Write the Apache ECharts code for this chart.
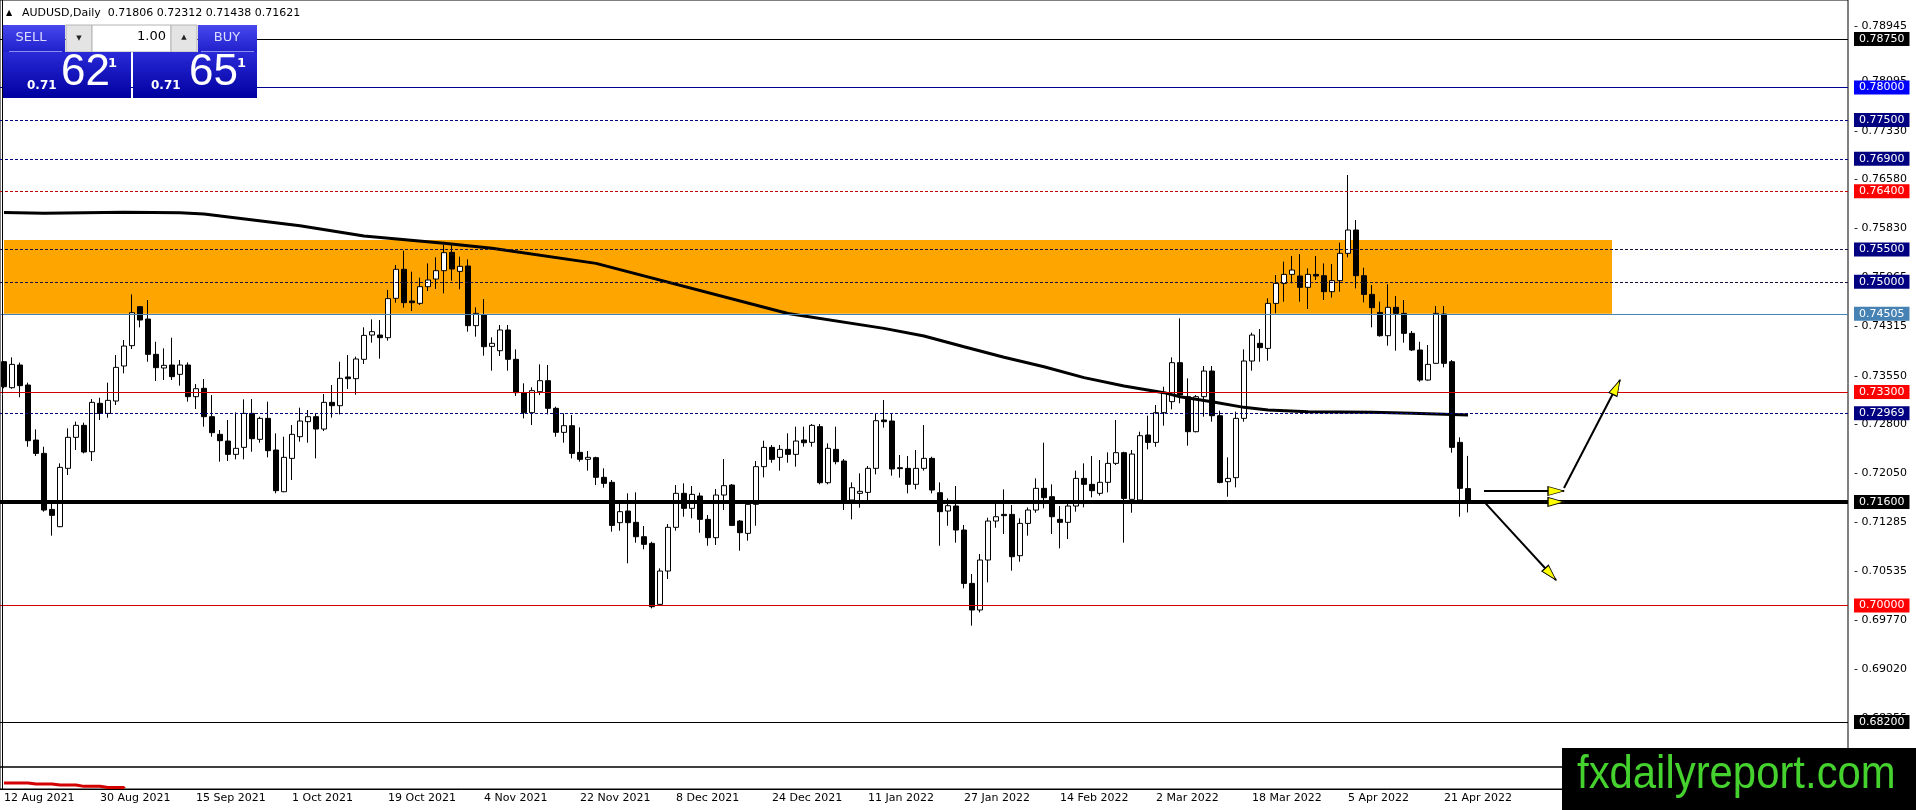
<!DOCTYPE html>
<html>
<head>
<meta charset="utf-8">
<style>
  html, body { margin: 0; padding: 0; background: #fff; }
  #main { width: 1916px; height: 810px; }
</style>
</head>
<body>
<div id="main"></div>
<script src="https://cdn.jsdelivr.net/npm/echarts@6/dist/echarts.min.js"></script>
<script>
// AUDUSD daily, 12 Aug 2021 .. 26 Apr 2022 (one bar per weekday)
var opens = [
  0.73766, 0.73365, 0.73715, 0.73406, 0.72556, 0.72350, 0.71485, 0.71218, 0.72119, 0.72598,
  0.72783, 0.72376, 0.73123, 0.72968, 0.73159, 0.73700, 0.74014, 0.74616, 0.74425, 0.73880,
  0.73669, 0.73715, 0.73571, 0.73715, 0.73226, 0.73355, 0.72917, 0.72644, 0.72541, 0.72335,
  0.72443, 0.72968, 0.72567, 0.72891, 0.72402, 0.71758, 0.72273, 0.72608, 0.72840, 0.72917,
  0.72726, 0.73138, 0.73087, 0.73530, 0.73504, 0.73803, 0.74178, 0.74178, 0.74137, 0.74745,
  0.75193, 0.74704, 0.74668, 0.74925, 0.75043, 0.75172, 0.75455, 0.75162, 0.75244, 0.74323,
  0.74487, 0.74003, 0.73936, 0.74256, 0.73803, 0.73288, 0.72979, 0.73303, 0.73473, 0.73046,
  0.72675, 0.72778, 0.72366, 0.72258, 0.72284, 0.71980, 0.71903, 0.71280, 0.71460, 0.71285,
  0.71063, 0.70960, 0.70018, 0.70533, 0.71208, 0.71733, 0.71501, 0.71692, 0.71331, 0.71048,
  0.71707, 0.71861, 0.71305, 0.71115, 0.71563, 0.72145, 0.72443, 0.72289, 0.72412, 0.72335,
  0.72557, 0.72521, 0.72763, 0.71897, 0.72412, 0.72232, 0.71630, 0.71733, 0.71748, 0.72119,
  0.72866, 0.72850, 0.72129, 0.72119, 0.71872, 0.72119, 0.72273, 0.71743, 0.71460, 0.71537,
  0.71166, 0.70342, 0.69931, 0.70703, 0.71305, 0.71408, 0.71408, 0.70770, 0.71269, 0.71475,
  0.71810, 0.71681, 0.71331, 0.71285, 0.71537, 0.71964, 0.71872, 0.71733, 0.71903, 0.72196,
  0.72361, 0.71640, 0.71630, 0.72634, 0.72520, 0.72979, 0.73149, 0.73751, 0.73226, 0.72685,
  0.73226, 0.73622, 0.72932, 0.71913, 0.71975, 0.72891, 0.73777, 0.74050, 0.73972, 0.74667,
  0.74976, 0.75115, 0.75090, 0.74915, 0.75115, 0.75095, 0.74848, 0.75018, 0.75440, 0.75800,
  0.75095, 0.74806, 0.74528, 0.74168, 0.74606, 0.74513, 0.74204, 0.73947, 0.73483, 0.73741,
  0.74503, 0.73766, 0.72520, 0.71806
];
var highs = [
  0.73777, 0.73833, 0.73751, 0.73442, 0.72721, 0.72453, 0.71578, 0.72196, 0.72737, 0.72840,
  0.72824, 0.73190, 0.73210, 0.73442, 0.73869, 0.74101, 0.74807, 0.74626, 0.74719, 0.74075,
  0.73972, 0.74137, 0.73792, 0.73756, 0.73421, 0.73499, 0.73251, 0.72711, 0.72865, 0.72984,
  0.73185, 0.73190, 0.72917, 0.73149, 0.72659, 0.72608, 0.72788, 0.73056, 0.73020, 0.72968,
  0.73267, 0.73406, 0.73766, 0.73869, 0.73844, 0.74297, 0.74420, 0.74410, 0.74874, 0.75260,
  0.75481, 0.75157, 0.75064, 0.75285, 0.75378, 0.75569, 0.75584, 0.75388, 0.75347, 0.74606,
  0.74734, 0.74142, 0.74333, 0.74333, 0.73957, 0.73432, 0.73370, 0.73725, 0.73715, 0.73071,
  0.72968, 0.72943, 0.72752, 0.72387, 0.72299, 0.72119, 0.71939, 0.71568, 0.71733, 0.71748,
  0.71228, 0.70986, 0.70574, 0.71259, 0.71861, 0.71887, 0.71846, 0.71743, 0.71398, 0.71800,
  0.72263, 0.71877, 0.71321, 0.71604, 0.72232, 0.72546, 0.72479, 0.72479, 0.72660, 0.72763,
  0.72763, 0.72804, 0.72804, 0.72505, 0.72763, 0.72263, 0.71903, 0.72042, 0.72155, 0.72968,
  0.73174, 0.72968, 0.72325, 0.72309, 0.72402, 0.72788, 0.72299, 0.71903, 0.71655, 0.71846,
  0.71244, 0.70487, 0.70796, 0.71357, 0.71568, 0.71794, 0.71553, 0.71347, 0.71516, 0.71964,
  0.72515, 0.71872, 0.71537, 0.71589, 0.72083, 0.72196, 0.72309, 0.72248, 0.72366, 0.72865,
  0.72376, 0.72402, 0.72685, 0.72932, 0.73097, 0.73380, 0.73833, 0.74436, 0.73509, 0.73251,
  0.73699, 0.73699, 0.73009, 0.72289, 0.72994, 0.73957, 0.74214, 0.74271, 0.74745, 0.75105,
  0.75311, 0.75399, 0.75430, 0.75208, 0.75399, 0.75285, 0.75275, 0.75605, 0.76650, 0.75955,
  0.75218, 0.74951, 0.74693, 0.74961, 0.74781, 0.74719, 0.74240, 0.74075, 0.74024, 0.74626,
  0.74626, 0.73792, 0.72598, 0.72312
];
var lows = [
  0.73355, 0.73349, 0.73216, 0.72453, 0.72309, 0.71450, 0.71079, 0.71210, 0.72016, 0.72402,
  0.72350, 0.72232, 0.72865, 0.72901, 0.73097, 0.73586, 0.73962, 0.74297, 0.73766, 0.73468,
  0.73483, 0.73483, 0.73396, 0.73149, 0.73035, 0.72762, 0.72608, 0.72222, 0.72232, 0.72258,
  0.72258, 0.72376, 0.72515, 0.72289, 0.71733, 0.71750, 0.71939, 0.72531, 0.72515, 0.72273,
  0.72695, 0.72902, 0.72953, 0.73344, 0.73257, 0.73730, 0.74060, 0.73813, 0.74091, 0.74678,
  0.74601, 0.74549, 0.74642, 0.74858, 0.74889, 0.74822, 0.75018, 0.74884, 0.74230, 0.74153,
  0.73859, 0.73627, 0.73854, 0.73627, 0.73236, 0.72891, 0.72788, 0.73252, 0.72953, 0.72608,
  0.72515, 0.72273, 0.72222, 0.72083, 0.71861, 0.71820, 0.71141, 0.71156, 0.70652, 0.70971,
  0.70868, 0.69956, 0.70008, 0.70410, 0.71156, 0.71372, 0.71347, 0.71125, 0.70924, 0.70935,
  0.71475, 0.71233, 0.70847, 0.71002, 0.71233, 0.71980, 0.72206, 0.72083, 0.72206, 0.72145,
  0.72454, 0.72454, 0.71872, 0.71872, 0.72181, 0.71475, 0.71331, 0.71511, 0.71630, 0.72026,
  0.72747, 0.72006, 0.71975, 0.71733, 0.71794, 0.72083, 0.71733, 0.70924, 0.71233, 0.70971,
  0.70265, 0.69689, 0.69894, 0.70358, 0.71202, 0.71104, 0.70538, 0.70677, 0.71079, 0.71434,
  0.71501, 0.71104, 0.70883, 0.71027, 0.71450, 0.71516, 0.71671, 0.71697, 0.71748, 0.72170,
  0.70971, 0.71434, 0.71619, 0.72412, 0.72453, 0.72778, 0.73030, 0.73123, 0.72469, 0.72675,
  0.72917, 0.72840, 0.71887, 0.71681, 0.71825, 0.72840, 0.73627, 0.73766, 0.73782, 0.74513,
  0.74693, 0.74976, 0.74693, 0.74580, 0.75028, 0.74719, 0.74755, 0.74848, 0.75378, 0.74899,
  0.74683, 0.74297, 0.74153, 0.74014, 0.73936, 0.74060, 0.73931, 0.73457, 0.73473, 0.73730,
  0.73679, 0.72361, 0.71372, 0.71438
];
var closes = [
  0.73380, 0.73725, 0.73396, 0.72546, 0.72350, 0.71475, 0.71393, 0.72134, 0.72598, 0.72783,
  0.72371, 0.73138, 0.72968, 0.73169, 0.73679, 0.74008, 0.74523, 0.74410, 0.73880, 0.73674,
  0.73710, 0.73535, 0.73715, 0.73226, 0.73349, 0.72917, 0.72670, 0.72546, 0.72335, 0.72428,
  0.72968, 0.72577, 0.72891, 0.72392, 0.71774, 0.72289, 0.72644, 0.72850, 0.72917, 0.72726,
  0.73138, 0.73087, 0.73509, 0.73504, 0.73808, 0.74173, 0.74230, 0.74137, 0.74740, 0.75193,
  0.74678, 0.74678, 0.74925, 0.75028, 0.75172, 0.75450, 0.75198, 0.75239, 0.74323, 0.74513,
  0.73998, 0.74050, 0.74256, 0.73803, 0.73288, 0.72979, 0.73319, 0.73473, 0.73046, 0.72675,
  0.72778, 0.72350, 0.72258, 0.72289, 0.71980, 0.71887, 0.71238, 0.71450, 0.71280, 0.71063,
  0.70945, 0.69982, 0.70533, 0.71208, 0.71733, 0.71501, 0.71717, 0.71331, 0.71048, 0.71707,
  0.71851, 0.71238, 0.71125, 0.71563, 0.72145, 0.72443, 0.72258, 0.72412, 0.72335, 0.72541,
  0.72515, 0.72783, 0.71897, 0.72428, 0.72222, 0.71630, 0.71820, 0.71764, 0.72119, 0.72855,
  0.72840, 0.72109, 0.72114, 0.71872, 0.72119, 0.72273, 0.71784, 0.71450, 0.71542, 0.71166,
  0.70342, 0.69931, 0.70703, 0.71305, 0.71372, 0.71388, 0.70754, 0.71269, 0.71475, 0.71810,
  0.71666, 0.71372, 0.71285, 0.71537, 0.71964, 0.71872, 0.71774, 0.71903, 0.72196, 0.72361,
  0.71655, 0.72340, 0.72623, 0.72520, 0.72979, 0.73293, 0.73751, 0.73252, 0.72685, 0.73226,
  0.73622, 0.72932, 0.71902, 0.71964, 0.72891, 0.73777, 0.74178, 0.73983, 0.74667, 0.74976,
  0.75115, 0.75182, 0.74915, 0.75115, 0.75090, 0.74848, 0.75018, 0.75440, 0.75800, 0.75095,
  0.74806, 0.74601, 0.74168, 0.74606, 0.74513, 0.74204, 0.73947, 0.73483, 0.73725, 0.74513,
  0.73741, 0.72443, 0.71810, 0.71621
];

// thick moving average, sampled at bar indexes
var maIndex  = [0, 5, 15, 22, 25, 37, 45, 55, 61, 74, 98, 110, 115, 120, 125, 130, 135, 140, 145, 147, 151, 155, 158, 163, 171, 176, 183];
var maValues = [0.76070, 0.76058, 0.76073, 0.76068, 0.76047, 0.75867, 0.75708, 0.75594, 0.75517, 0.75285, 0.74510, 0.74281, 0.74163, 0.73998, 0.73834, 0.73689, 0.73520, 0.73390, 0.73288, 0.73226, 0.73149, 0.73061, 0.73020, 0.72994, 0.72984, 0.72969, 0.72943];

// small indicator in the sub window (first bars only)
var subValues = [0.27, 0.27, 0.27, 0.23, 0.23, 0.23, 0.18, 0.18, 0.18, 0.12, 0.12, 0.12, 0.07, 0.07, 0.07, 0.03];

var dateLabels = ['12 Aug 2021', '30 Aug 2021', '15 Sep 2021', '1 Oct 2021', '19 Oct 2021', '4 Nov 2021',
  '22 Nov 2021', '8 Dec 2021', '24 Dec 2021', '11 Jan 2022', '27 Jan 2022', '14 Feb 2022',
  '2 Mar 2022', '18 Mar 2022', '5 Apr 2022', '21 Apr 2022'];

var priceTicks = [0.78945, 0.78095, 0.77330, 0.76580, 0.75830, 0.75065, 0.74315, 0.73550,
  0.72800, 0.72050, 0.71285, 0.70535, 0.69770, 0.69020, 0.68255];

var levelValues = [0.78750, 0.78000, 0.77500, 0.76900, 0.76400, 0.75500, 0.75000, 0.74505,
  0.73300, 0.72969, 0.71600, 0.70000, 0.68200];

var zoneTop = 0.75646, zoneBottom = 0.74505, zoneEnd = 201;

var arrowStarts = [[185, 0.71769], [195, 0.71815], [185, 0.71604]];
var arrowEnds   = [[195, 0.71769], [202, 0.73483], [194, 0.70394]];
var arrowHeads  = [[195, 0.71769], [195, 0.71600], [202, 0.73483], [194, 0.70394]];

// styles (kept apart from the values)
var navy = '#000080';
var levelStyles = [
  { c: '#000000', t: 'solid', w: 1, bg: '#000000' },
  { c: '#00008b', t: 'solid', w: 1, bg: '#0000ff' },
  { c: navy, t: [3, 2], w: 1, bg: navy },
  { c: navy, t: [3, 2], w: 1, bg: navy },
  { c: '#c00000', t: [3, 2], w: 1, bg: '#ff0000' },
  { c: '#1a1040', t: [3, 2], w: 1, bg: navy },
  { c: '#1a1040', t: [3, 2], w: 1, bg: navy },
  { c: '#4682b4', t: 'solid', w: 1, bg: '#4682b4' },
  { c: '#d00000', t: 'solid', w: 1, bg: '#ff0000' },
  { c: navy, t: [3, 2], w: 1, bg: navy },
  { c: '#000000', t: 'solid', w: 4, bg: '#000000' },
  { c: '#d00000', t: 'solid', w: 1, bg: '#ff0000' },
  { c: '#000000', t: 'solid', w: 1, bg: '#000000' }
];
var headRotate = [-90, -90, -25.7, -137.7];
var headOffset = [[-8, 0], [-8, 0], [-3.5, 7.2], [-5.4, -5.9]];

var SLOTS = 231;
var categories = [];
for (var i = 0; i < SLOTS; i++) categories.push(String(i));

var candleData = opens.map(function (o, i) { return [o, closes[i], lows[i], highs[i]]; });
var maData = maIndex.map(function (x, i) { return [x, maValues[i]]; });

var FONT = 'DejaVu Sans';

var markLines = [];
priceTicks.forEach(function (v) {
  markLines.push({
    yAxis: v,
    lineStyle: { color: 'rgba(0,0,0,0)', width: 0 },
    label: { show: true, position: 'end', distance: 6, formatter: '- ' + v.toFixed(5), color: '#000',
      fontFamily: FONT, fontSize: 11, padding: [1, 5, 1, 0], lineHeight: 12 }
  });
});
levelValues.forEach(function (v, i) {
  var s = levelStyles[i];
  markLines.push({
    yAxis: v,
    lineStyle: { color: s.c, type: s.t, width: s.w, opacity: 1 },
    label: { show: true, position: 'end', distance: 6, formatter: v.toFixed(5), color: '#fff',
      backgroundColor: s.bg, fontFamily: FONT, fontSize: 11, padding: [1, 5, 1, 5], lineHeight: 12 }
  });
});
arrowStarts.forEach(function (p, i) {
  markLines.push([
    { coord: p, lineStyle: { color: '#000', width: 2, type: 'solid', opacity: 1 }, label: { show: false } },
    { coord: arrowEnds[i] }
  ]);
});

var markPoints = arrowHeads.map(function (p, i) {
  return {
    coord: p, symbol: 'triangle', symbolSize: [9, 16],
    symbolRotate: headRotate[i], symbolOffset: headOffset[i],
    itemStyle: { color: '#ffff00', borderColor: '#000', borderWidth: 1 },
    label: { show: false }
  };
});

var chartDom = document.getElementById('main');
var myChart = echarts.init(chartDom, null, { renderer: 'canvas' });

var blueTop = { type: 'linear', x: 0, y: 0, x2: 0, y2: 1,
  colorStops: [{ offset: 0, color: '#4848ee' }, { offset: 1, color: '#2020cc' }] };
var blueLow = { type: 'linear', x: 0, y: 0, x2: 0, y2: 1,
  colorStops: [{ offset: 0, color: '#2a2ad8' }, { offset: 1, color: '#0000a0' }] };

var option = {
  animation: false,
  backgroundColor: '#ffffff',
  grid: [
    { left: 0, top: 0, width: SLOTS * 8, height: 767, show: true, borderColor: '#000', borderWidth: 1 },
    { left: 0, top: 767, width: SLOTS * 8, height: 22, show: true, borderColor: '#000', borderWidth: 1 }
  ],
  xAxis: [
    { type: 'category', gridIndex: 0, data: categories, boundaryGap: true,
      axisLine: { show: false }, axisTick: { show: false }, axisLabel: { show: false }, splitLine: { show: false } },
    { type: 'category', gridIndex: 1, data: categories, boundaryGap: true,
      axisLine: { show: true, lineStyle: { color: '#000' } },
      axisTick: { show: false },
      axisLabel: { show: true, interval: 11, align: 'left', margin: 4, color: '#000', fontFamily: FONT, fontSize: 11,
        formatter: function (v, idx) { var k = idx / 12; return dateLabels[k] || ''; } },
      splitLine: { show: false } }
  ],
  yAxis: [
    { type: 'value', gridIndex: 0, min: 0.67506, max: 0.79353, show: false, splitLine: { show: false } },
    { type: 'value', gridIndex: 1, min: 0, max: 1, show: false, splitLine: { show: false } }
  ],
  series: [
    {
      name: 'AUDUSD', type: 'candlestick', xAxisIndex: 0, yAxisIndex: 0, z: 2,
      data: candleData, barWidth: 5,
      itemStyle: { color: '#ffffff', color0: '#000000', borderColor: '#000000', borderColor0: '#000000',
        borderColorDoji: '#000000', borderWidth: 1 },
      markArea: {
        silent: true,
        itemStyle: { color: '#ffa500' },
        data: [[{ xAxis: 0, yAxis: zoneTop }, { xAxis: zoneEnd, yAxis: zoneBottom }]]
      },
      markLine: { silent: true, symbol: 'none', precision: 5, data: markLines },
      markPoint: { silent: true, data: markPoints }
    },
    {
      name: 'MA', type: 'line', xAxisIndex: 0, yAxisIndex: 0, z: 3,
      data: maData, symbol: 'none', smooth: false,
      lineStyle: { color: '#000', width: 3 }
    },
    {
      name: 'sub', type: 'line', xAxisIndex: 1, yAxisIndex: 1, z: 3,
      data: subValues, symbol: 'none', step: 'end',
      lineStyle: { color: '#d40000', width: 3 }
    }
  ],
  graphic: [
    { type: 'line', z: 90, shape: { x1: 2.5, y1: 0, x2: 2.5, y2: 789 }, style: { stroke: '#000', lineWidth: 1 } },
    { type: 'text', z: 100, x: 6, y: 13, style: { text: '\u25B2', fill: '#000', font: '8px ' + FONT, verticalAlign: 'middle' } },
    { type: 'text', z: 100, x: 22, y: 13, style: { text: 'AUDUSD,Daily  0.71806 0.72312 0.71438 0.71621',
      fill: '#000', font: '11px ' + FONT, verticalAlign: 'middle' } },

    { type: 'rect', z: 100, shape: { x: 3, y: 25, width: 62, height: 27 }, style: { fill: blueTop } },
    { type: 'rect', z: 100, shape: { x: 198, y: 25, width: 59, height: 27 }, style: { fill: blueTop } },
    { type: 'line', z: 101, shape: { x1: 9, y1: 51.5, x2: 62, y2: 51.5 }, style: { stroke: '#8d8df0', lineWidth: 1 } },
    { type: 'line', z: 101, shape: { x1: 201, y1: 51.5, x2: 254, y2: 51.5 }, style: { stroke: '#8d8df0', lineWidth: 1 } },
    { type: 'text', z: 101, x: 31, y: 38, style: { text: 'SELL', fill: '#dcdcff', font: '13px ' + FONT, align: 'center', verticalAlign: 'middle' } },
    { type: 'text', z: 101, x: 227, y: 38, style: { text: 'BUY', fill: '#dcdcff', font: '13px ' + FONT, align: 'center', verticalAlign: 'middle' } },

    { type: 'rect', z: 100, shape: { x: 66, y: 25, width: 26, height: 27 }, style: { fill: '#e4e4e4', stroke: '#b4b4b4' } },
    { type: 'rect', z: 100, shape: { x: 92, y: 25, width: 79, height: 27 }, style: { fill: '#ffffff', stroke: '#b4b4b4' } },
    { type: 'rect', z: 100, shape: { x: 171, y: 25, width: 26, height: 27 }, style: { fill: '#e4e4e4', stroke: '#b4b4b4' } },
    { type: 'text', z: 101, x: 79, y: 38, style: { text: '\u25BC', fill: '#222', font: '7px ' + FONT, align: 'center', verticalAlign: 'middle' } },
    { type: 'text', z: 101, x: 184, y: 37, style: { text: '\u25B2', fill: '#222', font: '7px ' + FONT, align: 'center', verticalAlign: 'middle' } },
    { type: 'text', z: 101, x: 166, y: 37, style: { text: '1.00', fill: '#000', font: '13px ' + FONT, align: 'right', verticalAlign: 'middle' } },

    { type: 'rect', z: 100, shape: { x: 3, y: 52, width: 128, height: 46 }, style: { fill: blueLow } },
    { type: 'rect', z: 100, shape: { x: 133, y: 52, width: 124, height: 46 }, style: { fill: blueLow } },
    { type: 'text', z: 101, x: 27, y: 86, style: { text: '0.71', fill: '#fff', font: 'bold 12px ' + FONT, verticalAlign: 'middle' } },
    { type: 'text', z: 101, x: 61, y: 73, style: { text: '62', fill: '#fff', font: '44px "Liberation Sans"', verticalAlign: 'middle' } },
    { type: 'text', z: 101, x: 108, y: 64, style: { text: '1', fill: '#fff', font: 'bold 13px ' + FONT, verticalAlign: 'middle' } },
    { type: 'text', z: 101, x: 151, y: 86, style: { text: '0.71', fill: '#fff', font: 'bold 12px ' + FONT, verticalAlign: 'middle' } },
    { type: 'text', z: 101, x: 189, y: 73, style: { text: '65', fill: '#fff', font: '44px "Liberation Sans"', verticalAlign: 'middle' } },
    { type: 'text', z: 101, x: 237, y: 64, style: { text: '1', fill: '#fff', font: 'bold 13px ' + FONT, verticalAlign: 'middle' } },

    { type: 'rect', z: 100, shape: { x: 1562, y: 748, width: 354, height: 62 }, style: { fill: '#000' } },
    { type: 'text', z: 101, x: 1577, y: 775, scaleX: 0.91, originX: 0, originY: 0,
      style: { text: 'fxdailyreport.com', fill: '#45d12e', font: '46px "Liberation Sans"', verticalAlign: 'middle' } }
  ]
};

option && myChart.setOption(option);
</script>
</body>
</html>
